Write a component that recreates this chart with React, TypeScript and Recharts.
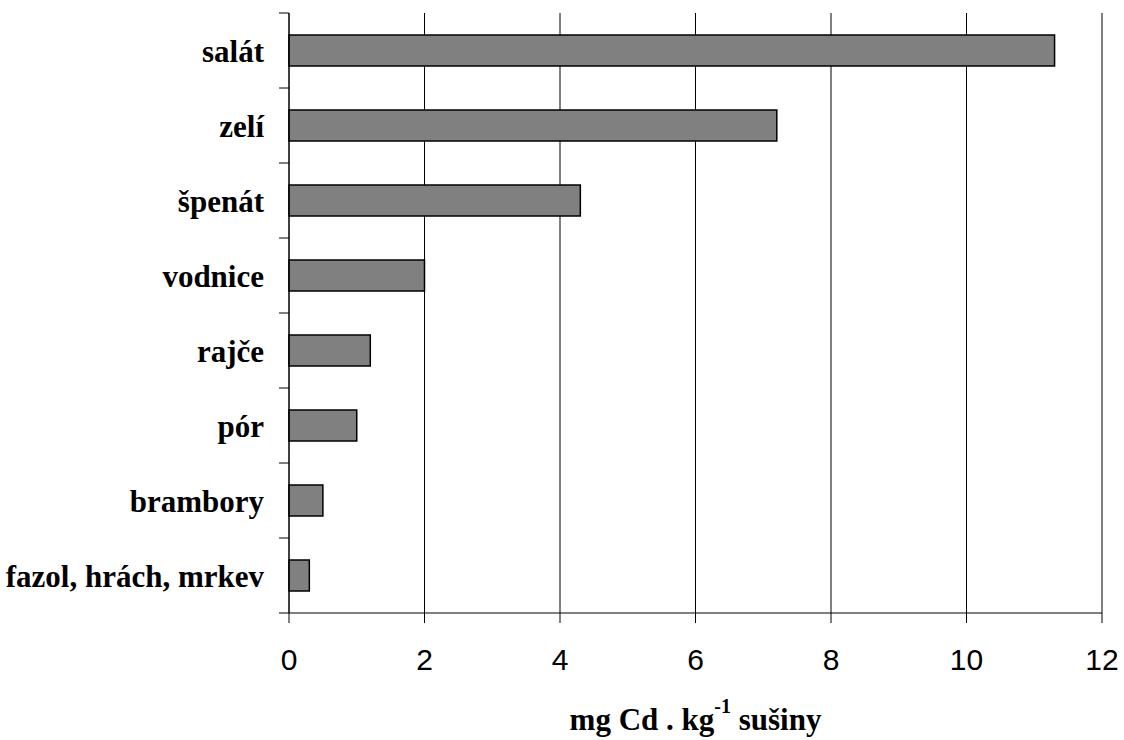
import React from 'react';
import { BarChart, Bar, XAxis, YAxis, CartesianGrid, Label } from 'recharts';

const categories = ['salát', 'zelí', 'špenát', 'vodnice', 'rajče', 'pór', 'brambory', 'fazol, hrách, mrkev'];
const values = [11.3, 7.2, 4.3, 2.0, 1.2, 1.0, 0.5, 0.3];
const xTicks = [0, 2, 4, 6, 8, 10, 12];

const data = categories.map((name, i) => ({ name, value: values[i] }));

const SERIF = '"Liberation Serif", "Times New Roman", serif';
const SANS = '"Liberation Sans", Arial, sans-serif';
const TICK_SIZE = 10;
const TICK_MARGIN = 15;

const CategoryTick = (props: any) => {
  const { x, y, payload, index, visibleTicksCount } = props;
  const half = payload.offset ?? 0;
  const x1 = x + TICK_MARGIN;
  const x2 = x1 + TICK_SIZE;
  const isLast = index === visibleTicksCount - 1;
  return (
    <g>
      <line x1={x1} x2={x2} y1={y - half} y2={y - half} stroke="#000" />
      {isLast && <line x1={x1} x2={x2} y1={y + half} y2={y + half} stroke="#000" />}
      <text x={x} y={y} dy="0.36em" textAnchor="end" fontFamily={SERIF} fontWeight="bold" fontSize={31} fill="#000">
        {payload.value}
      </text>
    </g>
  );
};

const AxisTitle = (props: any) => {
  const { viewBox } = props;
  const cx = viewBox.x + viewBox.width / 2;
  const baseline = viewBox.y + 117;
  return (
    <text x={cx} y={baseline} textAnchor="middle" fontFamily={SERIF} fontWeight="bold" fontSize={31} fill="#000">
      <tspan>mg Cd . kg</tspan>
      <tspan dy={-17} fontSize={20}>-1</tspan>
      <tspan dy={17}>{'\u00A0sušiny'}</tspan>
    </text>
  );
};

export default function App() {
  return (
    <div style={{ position: 'absolute', left: 0, top: 0, background: '#fff' }}>
      <BarChart
        width={1124}
        height={740}
        data={data}
        layout="vertical"
        margin={{ top: 13, right: 22, left: 0, bottom: 0 }}
      >
        <CartesianGrid horizontal={false} stroke="#000" />
        <XAxis
          type="number"
          domain={[0, 12]}
          ticks={xTicks}
          interval={0}
          height={127}
          tickSize={10}
          tickMargin={26}
          axisLine={{ stroke: '#000' }}
          tickLine={{ stroke: '#000' }}
          tick={{ fill: '#000', fontSize: 30, fontFamily: SANS }}
        >
          <Label content={<AxisTitle />} />
        </XAxis>
        <XAxis
          xAxisId="top"
          orientation="top"
          type="number"
          domain={[0, 12]}
          height={0}
          tick={false}
          tickLine={false}
          axisLine={{ stroke: '#a0a0a0' }}
        />
        <YAxis
          type="category"
          dataKey="name"
          width={289}
          interval={0}
          tickSize={TICK_SIZE}
          tickMargin={TICK_MARGIN}
          tickLine={false}
          axisLine={{ stroke: '#000' }}
          tick={<CategoryTick />}
        />
        <YAxis
          yAxisId="right"
          orientation="right"
          type="number"
          domain={[0, 1]}
          width={0}
          tick={false}
          tickLine={false}
          axisLine={{ stroke: '#a0a0a0' }}
        />
        <Bar dataKey="value" barSize={31} fill="#808080" stroke="#000" strokeWidth={1.5} isAnimationActive={false} />
      </BarChart>
    </div>
  );
}
